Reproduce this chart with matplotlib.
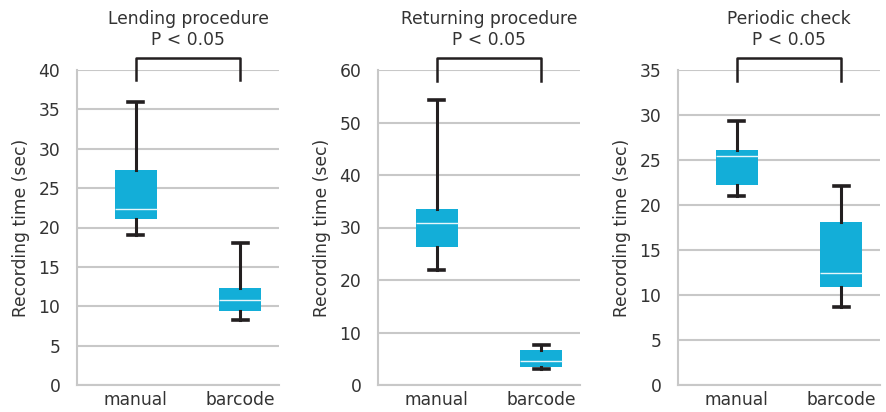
import matplotlib

matplotlib.use("Agg")
import matplotlib.pyplot as plt  # noqa: E402

# five-number summaries (whisker low, q1, median, q3, whisker high)
titles = ["Lending procedure", "Returning procedure", "Periodic check"]
groups = ["manual", "barcode"]
p_label = "P < 0.05"

lending_manual = [19.0, 21.1, 22.3, 27.3, 35.9]
lending_barcode = [8.3, 9.4, 10.8, 12.3, 18.0]
returning_manual = [21.9, 26.2, 30.8, 33.6, 54.3]
returning_barcode = [3.0, 3.5, 4.6, 6.7, 7.6]
periodic_manual = [21.0, 22.2, 25.5, 26.1, 29.3]
periodic_barcode = [8.7, 10.9, 12.4, 18.1, 22.1]

y_max = [40, 60, 35]
y_step = [5, 10, 5]
bracket_low = [38.7, 57.9, 33.8]

panels = [
    (lending_manual, lending_barcode),
    (returning_manual, returning_barcode),
    (periodic_manual, periodic_barcode),
]

BOX = "#13aed8"
INK = "#231f20"
GRID = "#c8c8c8"
TEXT = "#333333"
FS = 12.3

plt.rcParams["font.family"] = ["DejaVu Sans"]

fig = plt.figure(figsize=(8.87, 4.12), dpi=100)
lefts = [77, 378, 678]
for i, (man, bar) in enumerate(panels):
    ax = fig.add_axes([lefts[i] / 887, (412 - 385) / 412, 202 / 887, 315 / 412])
    stats = []
    for label, vals in zip(groups, (man, bar)):
        lo, q1, med, q3, hi = vals
        stats.append({"label": label, "whislo": lo, "q1": q1, "med": med,
                      "q3": q3, "whishi": hi, "fliers": []})
    ax.bxp(stats, positions=[0, 1], widths=0.4, patch_artist=True,
           showfliers=False,
           boxprops=dict(facecolor=BOX, edgecolor=BOX, linewidth=0),
           medianprops=dict(color="#e6f6fb", linewidth=1.0),
           whiskerprops=dict(color=INK, linewidth=2.2),
           capprops=dict(color=INK, linewidth=2.6),
           capwidths=0.14, zorder=3)
    ax.set_xlim(-0.56, 1.37)
    ax.set_ylim(0, y_max[i])
    ax.set_yticks(range(0, y_max[i] + 1, y_step[i]))
    ax.yaxis.grid(True, color=GRID, linewidth=1.5)
    ax.set_axisbelow(True)
    for side in ("top", "right"):
        ax.spines[side].set_visible(False)
    for side in ("left", "bottom"):
        ax.spines[side].set_color(GRID)
        ax.spines[side].set_linewidth(1.5)
    ax.tick_params(length=0, labelsize=FS, labelcolor=TEXT)
    ax.tick_params(axis="y", pad=12)
    ax.tick_params(axis="x", pad=4)
    ax.set_ylabel("Recording time (sec)", fontsize=FS, color=TEXT, labelpad=6)

    # significance bracket
    top = y_max[i] * (1 + 12 / 315)
    ax.plot([0, 0, 1, 1], [bracket_low[i], top, top, bracket_low[i]],
            color=INK, linewidth=1.8, clip_on=False, zorder=4)
    ax.text(0.5, y_max[i] * (1 + 21 / 315), f"{titles[i]}\n{p_label}",
            ha="center", va="bottom", fontsize=FS, color=TEXT,
            linespacing=1.25)

fig.savefig("out.png", dpi=100)
